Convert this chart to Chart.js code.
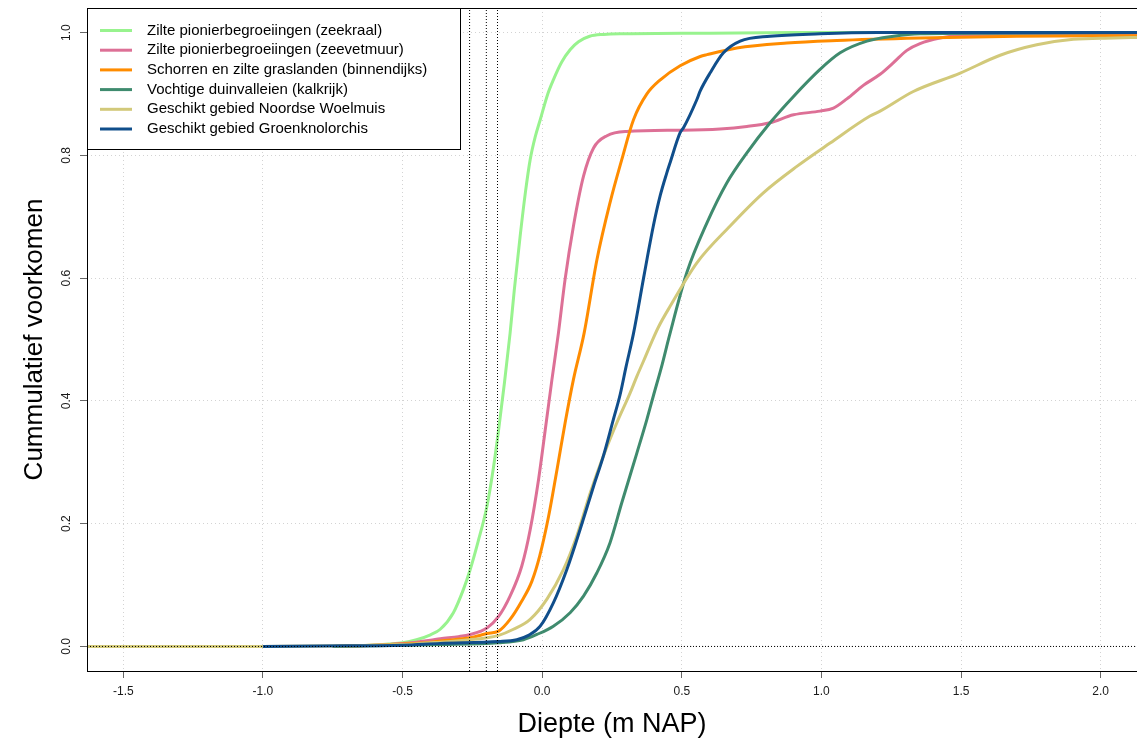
<!DOCTYPE html>
<html lang="nl">
<head>
<meta charset="utf-8">
<title>Cummulatief voorkomen naar diepte</title>
<script src="https://cdn.jsdelivr.net/npm/chart.js@4.4.1/dist/chart.umd.min.js"></script>
<style>
  html, body { margin: 0; padding: 0; background: #ffffff; }
  #wrap { width: 1137px; height: 744px; position: relative; }
</style>
</head>
<body>
<div id="wrap"><canvas id="cdf" width="1137" height="744"></canvas></div>
<script>
// Cumulative occurrence per habitat type against depth (m NAP): [depth, fraction]
const zeekraal = [[-0.75,0],[-0.65,0.001],[-0.55,0.004],[-0.5,0.006],[-0.45,0.011],[-0.4,0.019],[-0.365,0.028],[-0.318,0.055],[-0.282,0.093],[-0.258,0.125],[-0.23,0.17],[-0.198,0.228],[-0.175,0.29],[-0.156,0.353],[-0.135,0.43],[-0.115,0.51],[-0.1,0.58],[-0.079,0.668],[-0.06,0.74],[-0.043,0.793],[-0.025,0.83],[-0.007,0.858],[0.02,0.9],[0.04,0.923],[0.07,0.952],[0.1,0.972],[0.13,0.985],[0.17,0.994],[0.22,0.997],[0.3,0.998],[0.6,0.999],[0.9,1.0],[2.13,1.0]];
const zeevetmuur = [[-0.75,0],[-0.6,0.002],[-0.5,0.005],[-0.45,0.007],[-0.4,0.01],[-0.365,0.0125],[-0.3,0.016],[-0.258,0.0195],[-0.198,0.03],[-0.156,0.049],[-0.115,0.082],[-0.073,0.131],[-0.043,0.19],[-0.013,0.272],[0.011,0.353],[0.035,0.435],[0.058,0.51],[0.082,0.598],[0.112,0.685],[0.148,0.766],[0.184,0.812],[0.232,0.832],[0.303,0.839],[0.5,0.841],[0.637,0.843],[0.733,0.847],[0.816,0.853],[0.9,0.866],[0.995,0.872],[1.043,0.877],[1.091,0.892],[1.15,0.914],[1.21,0.932],[1.258,0.951],[1.306,0.971],[1.353,0.982],[1.425,0.991],[1.485,0.995],[1.6,0.996],[2.13,0.996]];
const binnendijks = [[-0.75,0],[-0.6,0.002],[-0.5,0.004],[-0.4,0.007],[-0.365,0.009],[-0.258,0.014],[-0.198,0.021],[-0.156,0.025],[-0.115,0.044],[-0.073,0.074],[-0.037,0.106],[-0.009,0.147],[0.023,0.212],[0.053,0.288],[0.082,0.364],[0.112,0.435],[0.15,0.51],[0.196,0.63],[0.243,0.723],[0.285,0.793],[0.327,0.858],[0.375,0.9],[0.423,0.923],[0.494,0.946],[0.566,0.961],[0.59,0.964],[0.697,0.975],[0.876,0.983],[1.055,0.987],[1.353,0.991],[1.7,0.994],[2.13,0.995]];
const duinvalleien = [[-0.75,0],[-0.6,0.001],[-0.5,0.002],[-0.365,0.003],[-0.156,0.006],[-0.067,0.011],[-0.019,0.0195],[0.04,0.033],[0.1,0.055],[0.148,0.082],[0.196,0.12],[0.243,0.169],[0.285,0.234],[0.339,0.315],[0.375,0.37],[0.398,0.408],[0.43,0.46],[0.455,0.505],[0.518,0.609],[0.59,0.69],[0.661,0.755],[0.733,0.804],[0.816,0.853],[0.9,0.896],[0.995,0.94],[1.067,0.967],[1.163,0.986],[1.258,0.994],[1.353,0.998],[1.6,0.999],[2.13,1.0]];
const woelmuis = [[-1.63,0],[-1.0,0],[-0.7,0.001],[-0.5,0.003],[-0.4,0.006],[-0.365,0.007],[-0.198,0.014],[-0.156,0.018],[-0.103,0.028],[-0.043,0.044],[0.017,0.077],[0.076,0.125],[0.124,0.18],[0.172,0.25],[0.219,0.31],[0.267,0.364],[0.315,0.413],[0.339,0.44],[0.363,0.465],[0.393,0.497],[0.416,0.52],[0.458,0.554],[0.554,0.625],[0.673,0.685],[0.792,0.739],[0.912,0.782],[1.031,0.82],[1.174,0.864],[1.21,0.872],[1.329,0.904],[1.497,0.934],[1.64,0.963],[1.771,0.98],[1.902,0.989],[2.046,0.991],[2.13,0.992]];
const groenknolorchis = [[-1.0,0],[-0.7,0.001],[-0.5,0.002],[-0.365,0.005],[-0.156,0.008],[-0.091,0.011],[-0.049,0.018],[-0.007,0.033],[0.04,0.071],[0.088,0.125],[0.136,0.191],[0.184,0.261],[0.219,0.31],[0.255,0.37],[0.279,0.41],[0.30,0.455],[0.327,0.51],[0.363,0.6],[0.375,0.63],[0.398,0.685],[0.423,0.735],[0.446,0.771],[0.458,0.788],[0.494,0.837],[0.506,0.845],[0.554,0.891],[0.566,0.905],[0.601,0.934],[0.649,0.967],[0.709,0.986],[0.816,0.994],[0.995,0.998],[1.2,1.0],[2.13,1.0]];

// Threshold depths marked with dotted verticals, and the zero baseline
const thresholdDepths = [-0.26, -0.20, -0.16];
const baselineLevel = 0;

// Axis ranges and ticks
const xRange = [-1.63, 2.13];
const yRange = [-0.04, 1.04];
const xTicks = [-1.5, -1.0, -0.5, 0.0, 0.5, 1.0, 1.5, 2.0];
const yTicks = [0.0, 0.2, 0.4, 0.6, 0.8, 1.0];

// Series names and line colours
const seriesNames = [
  'Zilte pionierbegroeiingen (zeekraal)',
  'Zilte pionierbegroeiingen (zeevetmuur)',
  'Schorren en zilte graslanden (binnendijks)',
  'Vochtige duinvalleien (kalkrijk)',
  'Geschikt gebied Noordse Woelmuis',
  'Geschikt gebied Groenknolorchis'
];
const seriesColors = ['#98F38E', '#DD7096', '#FF8C00', '#3F8B6E', '#D2C97A', '#104E8B'];
const seriesData = [zeekraal, zeevetmuur, binnendijks, duinvalleien, woelmuis, groenknolorchis];

const FONT = '"Liberation Sans", Arial, Helvetica, sans-serif';

const toPoints = arr => arr.map(([x, y]) => ({ x, y }));

const datasets = [];
// Reference lines sit on top of the curves
thresholdDepths.forEach(d => datasets.push({
  data: [{ x: d, y: yRange[0] }, { x: d, y: yRange[1] }],
  borderColor: '#000000', borderWidth: 1, borderDash: [1, 2],
  pointRadius: 0, showLine: true, order: 0, isRef: true
}));
datasets.push({
  data: [{ x: xRange[0], y: baselineLevel }, { x: xRange[1], y: baselineLevel }],
  borderColor: '#000000', borderWidth: 1, borderDash: [1, 2],
  pointRadius: 0, showLine: true, order: 0, isRef: true
});
// Curves: later series drawn above earlier ones
seriesData.forEach((arr, i) => datasets.push({
  label: seriesNames[i],
  data: toPoints(arr),
  borderColor: seriesColors[i],
  backgroundColor: seriesColors[i],
  borderWidth: 3,
  pointRadius: 0,
  showLine: true,
  cubicInterpolationMode: 'monotone',
  order: 10 - i
}));

// Frame around the plotting region
const framePlugin = {
  id: 'frame',
  afterDraw(chart) {
    const { ctx, chartArea: a } = chart;
    ctx.save();
    ctx.strokeStyle = '#000000';
    ctx.lineWidth = 1;
    ctx.strokeRect(a.left + 0.5, a.top + 0.5, a.right - a.left, a.bottom - a.top);
    ctx.restore();
  }
};

// Vertical y tick labels
const yLabelPlugin = {
  id: 'yLabels',
  afterDraw(chart) {
    const { ctx } = chart;
    const ys = chart.scales.y;
    ctx.save();
    ctx.fillStyle = '#1a1a1a';
    ctx.font = '12px ' + FONT;
    ctx.textAlign = 'center';
    ctx.textBaseline = 'middle';
    yTicks.forEach(v => {
      const py = ys.getPixelForValue(v);
      ctx.save();
      ctx.translate(67, py);
      ctx.rotate(-Math.PI / 2);
      ctx.fillText(v.toFixed(1), 0, 0);
      ctx.restore();
    });
    ctx.restore();
  }
};

// Boxed legend in the upper-left corner of the plot
const legendPlugin = {
  id: 'boxLegend',
  afterDraw(chart) {
    const { ctx, chartArea: a } = chart;
    const left = a.left, top = a.top, w = 373, h = 141;
    ctx.save();
    ctx.fillStyle = '#ffffff';
    ctx.fillRect(left, top, w, h);
    ctx.strokeStyle = '#000000';
    ctx.lineWidth = 1;
    ctx.strokeRect(left + 0.5, top + 0.5, w, h);
    ctx.font = '15px ' + FONT;
    ctx.textBaseline = 'middle';
    ctx.textAlign = 'left';
    chart.data.datasets.filter(d => !d.isRef).forEach((d, i) => {
      const y = top + 22.5 + i * 19.7;
      ctx.strokeStyle = d.borderColor;
      ctx.lineWidth = 3;
      ctx.beginPath();
      ctx.moveTo(left + 13, y);
      ctx.lineTo(left + 45, y);
      ctx.stroke();
      ctx.fillStyle = '#000000';
      ctx.fillText(d.label, left + 60, y);
    });
    ctx.restore();
  }
};

new Chart(document.getElementById('cdf'), {
  type: 'scatter',
  data: { datasets },
  options: {
    responsive: false,
    animation: false,
    devicePixelRatio: 1,
    layout: { padding: { left: 0, top: 8, right: 0, bottom: 0 } },
    plugins: { legend: { display: false }, tooltip: { enabled: false } },
    elements: { line: { tension: 0 } },
    scales: {
      x: {
        type: 'linear',
        min: xRange[0], max: xRange[1],
        afterBuildTicks: s => { s.ticks = xTicks.map(v => ({ value: v })); },
        afterFit: s => { s.height = 73; },
        ticks: {
          callback: v => Number(v).toFixed(1),
          color: '#1a1a1a',
          font: { family: FONT, size: 12 },
          padding: 6,
          maxRotation: 0, minRotation: 0
        },
        grid: { color: '#d3d3d3', lineWidth: 1, tickLength: 7, tickColor: '#666666', tickWidth: 1 },
        border: { display: false, dash: [1, 3] },
        title: {
          display: true, text: 'Diepte (m NAP)', color: '#000000',
          font: { family: FONT, size: 27 }, padding: { top: 0, bottom: 3 }
        }
      },
      y: {
        type: 'linear',
        min: yRange[0], max: yRange[1],
        afterBuildTicks: s => { s.ticks = yTicks.map(v => ({ value: v })); },
        afterFit: s => { s.width = 87; },
        ticks: { display: false },
        grid: { color: '#d3d3d3', lineWidth: 1, tickLength: 7, tickColor: '#666666', tickWidth: 1 },
        border: { display: false, dash: [1, 3] },
        title: {
          display: true, text: 'Cummulatief voorkomen', color: '#000000',
          font: { family: FONT, size: 26 }, padding: { top: 19, bottom: 0 }
        }
      }
    }
  },
  plugins: [framePlugin, yLabelPlugin, legendPlugin]
});
</script>
</body>
</html>
